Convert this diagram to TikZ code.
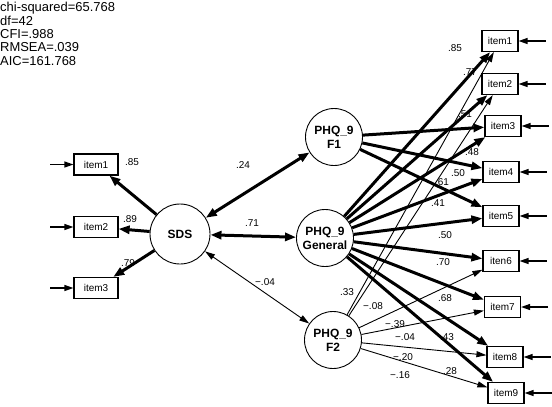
\documentclass[tikz,border=0pt]{standalone}
\usepackage{fontspec}
\setmainfont{Liberation Sans}
\usetikzlibrary{arrows.meta}

\begin{document}
\begin{tikzpicture}[x=1bp, y=-1bp,
  lat/.style={draw, circle, line width=0.9bp, minimum size=57bp, inner sep=0pt, align=center,
    font=\fontsize{12}{14}\selectfont\bfseries},
  obs/.style={draw, line width=1.2bp, minimum width=36bp, minimum height=21bp, inner sep=0pt,
    font=\fontsize{10}{12}\selectfont},
  est/.style={inner sep=0pt, font=\fontsize{10}{12}\selectfont},
  strong/.style={line width=3bp, -{Triangle[length=11bp,width=8bp]}},
  weak/.style={line width=0.9bp, -{Triangle[length=10bp,width=6bp]}},
  covstrong/.style={line width=3bp, {Triangle[length=11bp,width=8bp]}-{Triangle[length=11bp,width=8bp]}},
  covweak/.style={line width=0.9bp, {Triangle[length=10bp,width=6bp]}-{Triangle[length=10bp,width=6bp]}},
  err/.style={line width=1.3bp, -{Triangle[length=9bp,width=6bp]}}]
  \useasboundingbox (0,0) rectangle (552,406);

  % fit indices
  \node[anchor=north west, align=left, inner sep=0pt, font=\fontsize{13}{13.5}\selectfont] (fit) at (0,2)
    {chi-squared=65.768\\df=42\\CFI=.988\\RMSEA=.039\\AIC=161.768};

  % latent variables
  \node[lat, minimum size=60bp] (sds) at (180,234) {SDS};
  \node[lat] (f1) at (334,137) {PHQ\_9\\F1};
  \node[lat] (gen) at (325,238) {PHQ\_9\\General};
  \node[lat] (f2) at (333,340) {PHQ\_9\\F2};

  % observed items
  \foreach \i/\y in {1/164.5, 2/227, 3/288} {
    \node[obs, minimum width=44bp] (l\i) at (96,\y) {item\i};
    \coordinate (le\i) at ([xshift=-23bp]l\i.west);
  }
  \foreach \i/\x/\y/\t in {1/500/41/item1, 2/500/84/item2, 3/503/126/item3, 4/501/172/item4,
      5/501/216/item5, 6/501/261/iten6, 7/502.5/307/item7, 8/505/357/item8, 9/506/393/item9} {
    \node[obs] (r\i) at (\x,\y) {\t};
    \coordinate (re\i) at ([xshift=27bp]r\i.east);
  }

  % paths
  \foreach \i in {1,2,3} {
    \draw[strong] (sds) -- (l\i);
    \draw[err] (le\i) -- (l\i);
  }
  \draw[covstrong] (sds) -- (f1);
  \draw[covstrong] (sds) -- (gen);
  \draw[covweak] (sds) -- (f2);
  \foreach \i in {3,4,5} \draw[strong] (f1) -- (r\i);
  \foreach \i in {1,...,9} {
    \draw[strong] (gen) -- (r\i);
    \draw[err] (re\i) -- (r\i);
  }
  \foreach \i in {1,2,6,7,8,9} \draw[weak] (f2) -- (r\i);

  % estimates
  \foreach \n/\x/\y/\t in {s1/132/162/.85, s2/130/219/.89, s3/128/263/.79,
      c1/243/165/.24, c2/252/223/.71, c3/265/282/−.04,
      g1/455/48/.85, g2/470/72/.77, g3/465/114/.51, a3/472/152/.48, g4/442/182/.61,
      a4/458/173/.50, a5/438/203/.41, g5/445/235/.50, g6/443/262/.70, g7/445/298/.68,
      g8/447/337/.43, g9/450/371/.28,
      b1/347/292/.33, b2/373/306/−.08, b6/395/324/−.39, b7/405/337/−.04,
      b8/403/357/−.20, b9/400/375/−.16} {
    \node[est] (e\n) at (\x,\y) {\t};
  }
\end{tikzpicture}
\end{document}
